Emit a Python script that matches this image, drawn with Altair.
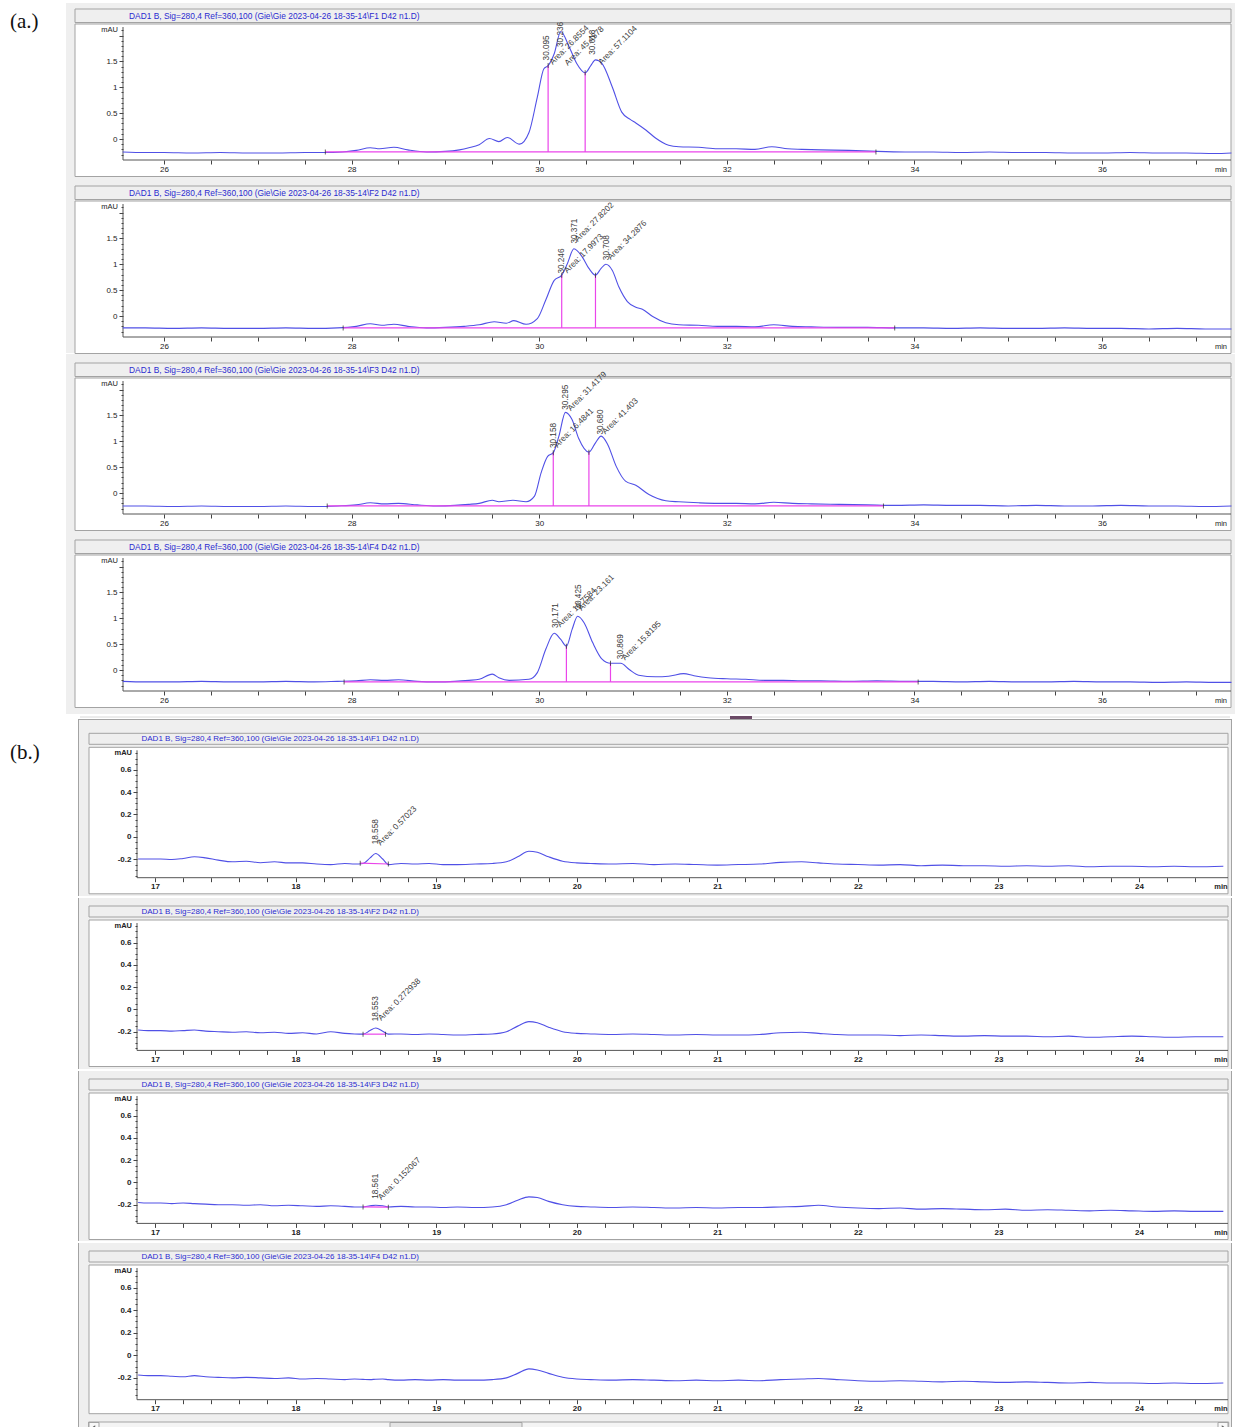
import altair as alt
import pandas as pd

FONT = "Liberation Sans"
SERIF = "Liberation Serif"
BLUE = "#5050e6"
PINK = "#ea45ea"
TITLE_C = "#2b2bd0"
LBL_C = "#3c3c3c"
GRAY_BG = "#efefef"
FRAME = "#a3a3a3"

TITLE_TMPL = "DAD1 B, Sig=280,4 Ref=360,100 (Gie\\Gie 2023-04-26 18-35-14\\F{} D42 n1.D)"
FRACTIONS = [1, 2, 3, 4]

# ---------------- (a.) panels : 25.5 - 37.4 min ----------------
A1_T = [25.56, 25.8, 26.0, 26.3, 26.6, 26.9, 27.2, 27.5, 27.7, 27.9, 28.05, 28.2, 28.3, 28.45, 28.6, 28.8,
        29.0, 29.15, 29.25, 29.36, 29.47, 29.57, 29.66, 29.79, 29.89, 29.98, 30.05, 30.095, 30.16, 30.23,
        30.32, 30.40, 30.49, 30.55, 30.60, 30.67, 30.78, 30.88, 30.97, 31.03, 31.14, 31.24, 31.38, 31.49,
        31.7, 31.9, 32.1, 32.3, 32.48, 32.65, 32.8, 33.0, 33.3, 33.6, 33.9, 34.2, 34.5, 34.8, 35.1, 35.4,
        35.7, 36.0, 36.3, 36.6, 36.9, 37.2, 37.38]
A1_V = [-0.25, -0.26, -0.26, -0.27, -0.26, -0.27, -0.27, -0.26, -0.26, -0.25, -0.22, -0.17, -0.19, -0.16,
        -0.21, -0.25, -0.24, -0.21, -0.17, -0.11, 0.01, -0.05, 0.03, -0.10, 0.12, 0.81, 1.36, 1.42, 1.65,
        2.08, 1.78, 1.46, 1.28, 1.42, 1.53, 1.46, 1.00, 0.52, 0.38, 0.31, 0.17, 0.02, -0.12, -0.15,
        -0.16, -0.19, -0.19, -0.20, -0.15, -0.19, -0.20, -0.21, -0.22, -0.24, -0.25, -0.25, -0.26, -0.25,
        -0.26, -0.26, -0.27, -0.27, -0.26, -0.27, -0.27, -0.28, -0.27]
A1_BASE = [27.72, 33.59, -0.25]
A1_DROP_T = [30.095, 30.49]
A1_DROP_V = [1.42, 1.28]
A1_RT = ["30.095", "30.236", "30.618"]
A1_RT_T = [30.087, 30.233, 30.57]
A1_RT_V = [1.52, 1.78, 1.63]
A1_AREA = ["Area: 26.8554", "Area: 45.4578", "Area: 57.1104"]
A1_AREA_T = [30.13, 30.29, 30.65]
A1_AREA_V = [1.46, 1.44, 1.46]

A2_T = [25.56, 25.8, 26.1, 26.4, 26.7, 27.0, 27.3, 27.6, 27.85, 28.05, 28.2, 28.32, 28.45, 28.6, 28.8, 29.0,
        29.2, 29.36, 29.52, 29.65, 29.73, 29.86, 29.98, 30.07, 30.16, 30.24, 30.30, 30.37, 30.46, 30.53,
        30.60, 30.66, 30.71, 30.78, 30.85, 30.94, 31.03, 31.10, 31.21, 31.35, 31.49, 31.7, 31.9, 32.1,
        32.3, 32.5, 32.7, 32.9, 33.2, 33.5, 33.8, 34.1, 34.4, 34.7, 35.0, 35.3, 35.6, 35.9, 36.2, 36.5,
        36.8, 37.1, 37.38]
A2_V = [-0.23, -0.23, -0.24, -0.23, -0.24, -0.24, -0.23, -0.24, -0.23, -0.20, -0.15, -0.18, -0.16, -0.20,
        -0.23, -0.22, -0.20, -0.17, -0.11, -0.14, -0.09, -0.16, -0.05, 0.31, 0.69, 0.79, 1.01, 1.30, 1.14,
        0.92, 0.79, 0.92, 1.00, 0.88, 0.56, 0.28, 0.17, 0.13, -0.01, -0.13, -0.17, -0.18, -0.20, -0.20,
        -0.21, -0.17, -0.20, -0.21, -0.22, -0.22, -0.23, -0.23, -0.24, -0.23, -0.24, -0.24, -0.23, -0.24,
        -0.24, -0.25, -0.24, -0.25, -0.25]
A2_BASE = [27.91, 33.79, -0.23]
A2_DROP_T = [30.24, 30.60]
A2_DROP_V = [0.79, 0.79]
A2_RT = ["30.246", "30.371", "30.708"]
A2_RT_T = [30.24, 30.38, 30.725]
A2_RT_V = [0.82, 1.40, 1.08]
A2_AREA = ["Area: 17.9973", "Area: 27.8202", "Area: 34.2876"]
A2_AREA_T = [30.285, 30.397, 30.747]
A2_AREA_V = [0.85, 1.46, 1.11]

A3_T = [25.56, 25.8, 26.1, 26.4, 26.7, 27.0, 27.3, 27.6, 27.85, 28.05, 28.2, 28.35, 28.5, 28.7, 28.9, 29.1,
        29.25, 29.36, 29.50, 29.57, 29.72, 29.86, 29.95, 30.02, 30.09, 30.15, 30.21, 30.28, 30.35, 30.42,
        30.53, 30.60, 30.66, 30.73, 30.82, 30.92, 31.03, 31.17, 31.35, 31.49, 31.7, 31.9, 32.1, 32.3,
        32.5, 32.7, 32.9, 33.2, 33.5, 33.8, 34.1, 34.4, 34.7, 35.0, 35.3, 35.6, 35.9, 36.2, 36.5, 36.8,
        37.1, 37.38]
A3_V = [-0.25, -0.25, -0.26, -0.25, -0.26, -0.26, -0.25, -0.26, -0.25, -0.23, -0.19, -0.21, -0.20, -0.23,
        -0.25, -0.24, -0.22, -0.20, -0.14, -0.17, -0.14, -0.17, -0.06, 0.39, 0.71, 0.78, 1.10, 1.56, 1.42,
        1.06, 0.79, 0.97, 1.10, 0.94, 0.52, 0.23, 0.15, -0.03, -0.15, -0.17, -0.19, -0.20, -0.20, -0.21,
        -0.18, -0.20, -0.21, -0.22, -0.23, -0.24, -0.23, -0.24, -0.24, -0.25, -0.24, -0.25, -0.25, -0.24,
        -0.25, -0.25, -0.26, -0.25]
A3_BASE = [27.74, 33.67, -0.25]
A3_DROP_T = [30.15, 30.53]
A3_DROP_V = [0.78, 0.79]
A3_RT = ["30.158", "30.295", "30.680"]
A3_RT_T = [30.158, 30.29, 30.664]
A3_RT_V = [0.87, 1.61, 1.13]
A3_AREA = ["Area: 16.4841", "Area: 31.4179", "Area: 41.403"]
A3_AREA_T = [30.18, 30.32, 30.69]
A3_AREA_V = [0.90, 1.61, 1.16]

A4_T = [25.56, 25.8, 26.1, 26.4, 26.7, 27.0, 27.3, 27.6, 27.85, 28.05, 28.2, 28.35, 28.5, 28.7, 28.9, 29.1,
        29.25, 29.36, 29.50, 29.57, 29.68, 29.89, 29.98, 30.07, 30.16, 30.23, 30.29, 30.35, 30.41, 30.48,
        30.57, 30.67, 30.76, 30.87, 30.96, 31.06, 31.24, 31.38, 31.54, 31.65, 31.8, 32.0, 32.2, 32.4,
        32.6, 32.8, 33.0, 33.3, 33.6, 33.9, 34.2, 34.5, 34.8, 35.1, 35.4, 35.7, 36.0, 36.3, 36.6, 36.9,
        37.2, 37.38]
A4_V = [-0.22, -0.23, -0.23, -0.22, -0.23, -0.23, -0.22, -0.23, -0.22, -0.21, -0.19, -0.20, -0.19, -0.22,
        -0.23, -0.22, -0.20, -0.18, -0.08, -0.15, -0.20, -0.18, -0.05, 0.40, 0.71, 0.59, 0.46, 0.78, 1.04,
        0.91, 0.53, 0.21, 0.13, 0.13, 0.01, -0.10, -0.13, -0.12, -0.07, -0.11, -0.15, -0.17, -0.18, -0.20,
        -0.20, -0.21, -0.21, -0.22, -0.21, -0.22, -0.22, -0.23, -0.22, -0.23, -0.23, -0.22, -0.23, -0.23,
        -0.24, -0.23, -0.24, -0.24]
A4_BASE = [27.92, 34.04, -0.23]
A4_DROP_T = [30.29, 30.76]
A4_DROP_V = [0.46, 0.13]
A4_RT = ["30.171", "30.425", "30.869"]
A4_RT_T = [30.18, 30.42, 30.87]
A4_RT_V = [0.81, 1.17, 0.21]
A4_AREA = ["Area: 10.7584", "Area: 23.161", "Area: 15.8195"]
A4_AREA_T = [30.21, 30.435, 30.90]
A4_AREA_V = [0.85, 1.17, 0.21]

# ---------------- (b.) panels : 16.9 - 24.6 min ----------------
B_T = [16.88, 16.95, 17.04, 17.12, 17.2, 17.28, 17.36, 17.45, 17.55, 17.65, 17.75, 17.85, 17.95, 18.05,
       18.15, 18.25, 18.35, 18.42, 18.48, 18.53, 18.57, 18.62, 18.66, 18.75, 18.85, 18.95, 19.05, 19.15,
       19.28, 19.4, 19.5, 19.58, 19.66, 19.72, 19.8, 19.9, 20.0, 20.1, 20.25, 20.4, 20.55, 20.7, 20.85,
       21.0, 21.15, 21.3, 21.45, 21.6, 21.72, 21.85, 22.0, 22.15, 22.3, 22.45, 22.6, 22.75, 22.9, 23.05,
       23.2, 23.35, 23.5, 23.65, 23.8, 23.95, 24.1, 24.25, 24.4, 24.6]
B1_V = [-0.20, -0.20, -0.20, -0.205, -0.195, -0.18, -0.19, -0.21, -0.225, -0.22, -0.233, -0.225, -0.235,
        -0.235, -0.245, -0.25, -0.24, -0.245, -0.24, -0.19, -0.15, -0.20, -0.25, -0.24, -0.245, -0.24,
        -0.25, -0.25, -0.245, -0.24, -0.225, -0.18, -0.13, -0.14, -0.18, -0.22, -0.235, -0.24, -0.245,
        -0.24, -0.25, -0.245, -0.25, -0.255, -0.25, -0.245, -0.23, -0.225, -0.235, -0.245, -0.25, -0.255,
        -0.25, -0.26, -0.255, -0.26, -0.26, -0.265, -0.26, -0.265, -0.26, -0.27, -0.265, -0.265, -0.27,
        -0.265, -0.27, -0.265]
B2_V = [-0.185, -0.19, -0.19, -0.195, -0.19, -0.185, -0.195, -0.20, -0.205, -0.20, -0.21, -0.205, -0.215,
        -0.21, -0.22, -0.20, -0.215, -0.22, -0.222, -0.19, -0.167, -0.195, -0.222, -0.22, -0.225, -0.22,
        -0.225, -0.23, -0.225, -0.22, -0.20, -0.15, -0.11, -0.12, -0.16, -0.20, -0.215, -0.22, -0.225,
        -0.22, -0.225, -0.23, -0.225, -0.23, -0.23, -0.225, -0.21, -0.205, -0.215, -0.225, -0.23, -0.23,
        -0.235, -0.23, -0.235, -0.24, -0.235, -0.24, -0.24, -0.245, -0.24, -0.25, -0.245, -0.24, -0.245,
        -0.25, -0.245, -0.245]
B3_V = [-0.18, -0.185, -0.185, -0.19, -0.185, -0.19, -0.195, -0.20, -0.20, -0.205, -0.20, -0.21, -0.205,
        -0.21, -0.215, -0.21, -0.215, -0.22, -0.22, -0.21, -0.205, -0.21, -0.22, -0.215, -0.22, -0.22,
        -0.225, -0.22, -0.225, -0.22, -0.20, -0.16, -0.13, -0.135, -0.17, -0.20, -0.215, -0.22, -0.225,
        -0.22, -0.225, -0.23, -0.225, -0.23, -0.225, -0.225, -0.22, -0.215, -0.205, -0.22, -0.23, -0.235,
        -0.23, -0.24, -0.235, -0.24, -0.245, -0.24, -0.25, -0.245, -0.25, -0.255, -0.25, -0.255, -0.26,
        -0.255, -0.26, -0.26]
B4_V = [-0.175, -0.18, -0.18, -0.185, -0.19, -0.18, -0.19, -0.195, -0.20, -0.195, -0.20, -0.205, -0.20,
        -0.21, -0.205, -0.21, -0.215, -0.21, -0.213, -0.215, -0.212, -0.21, -0.215, -0.22, -0.215, -0.22,
        -0.215, -0.22, -0.22, -0.215, -0.20, -0.16, -0.12, -0.13, -0.16, -0.195, -0.21, -0.215, -0.22,
        -0.215, -0.22, -0.225, -0.22, -0.225, -0.22, -0.225, -0.215, -0.21, -0.205, -0.215, -0.225, -0.23,
        -0.225, -0.23, -0.235, -0.23, -0.235, -0.24, -0.235, -0.24, -0.245, -0.24, -0.245, -0.245, -0.25,
        -0.245, -0.25, -0.245]
B1_BASE = [18.46, 18.66, -0.237, -0.245]
B2_BASE = [18.48, 18.64, -0.222, -0.222]
B3_BASE = [18.48, 18.66, -0.22, -0.222]
B1_RT, B1_AREA = "18.558", "Area: 0.57023"
B2_RT, B2_AREA = "18.553", "Area: 0.272938"
B3_RT, B3_AREA = "18.561", "Area: 0.152067"
B1_LBL = [18.572, -0.068, 18.595, -0.068]
B2_LBL = [18.572, -0.107, 18.60, -0.092]
B3_LBL = [18.572, -0.147, 18.60, -0.147]

# axis tick positions
A_XTICKS = [26 + 0.5 * i for i in range(23)]
A_YTICKS = [round(-0.3 + 0.1 * i, 1) for i in range(25)]
B_XTICKS = [round(17 + 0.2 * i, 1) for i in range(38)]
B_YTICKS = [round(-0.35 + 0.05 * i, 2) for i in range(23)]

W = 1235
ONE = pd.DataFrame({"k": [0]})


def rect(x0, x1, y0, y1, fill, stroke=None):
    kw = dict(fill=fill)
    if stroke:
        kw.update(stroke=stroke, strokeWidth=1)
    return alt.Chart(ONE).mark_rect(**kw).encode(
        x=alt.value(x0), x2=alt.value(x1), y=alt.value(y0), y2=alt.value(y1))


def hline(x0, x1, y, color):
    return alt.Chart(ONE).mark_rule(color=color, strokeWidth=1).encode(
        x=alt.value(x0), x2=alt.value(x1), y=alt.value(y))


def vline(x, y0, y1, color):
    return alt.Chart(ONE).mark_rule(color=color, strokeWidth=1).encode(
        x=alt.value(x), y=alt.value(y0), y2=alt.value(y1))


def text(s, x, y, size, color, align="left", weight="normal", font=FONT):
    return alt.Chart(ONE).mark_text(text=s, fontSize=size, color=color, align=align, baseline="middle",
                                    fontWeight=weight, font=font).encode(x=alt.value(x), y=alt.value(y))


def panel(p):
    h = p["h"]
    xs = alt.Scale(domain=p["xdom"], nice=False, zero=False)
    ys = alt.Scale(domain=[(p["zero"] - h) / p["ppu"], p["zero"] / p["ppu"]], nice=False, zero=False)
    bold = "bold" if p["grp"] == "b" else "normal"
    T = p["T"]
    L, R = p["box_x"]
    ax = p["ax"]
    xay = p["xaxis_y"]

    xaxis = alt.Axis(values=p["xticks"], labelExpr=p["xlabel"], orient="bottom", offset=xay - h,
                     domain=False, grid=False, tickSize=4, tickColor="#444", labelFont=FONT,
                     labelFontSize=8, labelColor="#222", labelFontWeight=bold, labelPadding=1,
                     labelOverlap=False, labelFlush=False, title=None, zindex=3)
    yaxis = alt.Axis(values=p["yticks"], labelExpr=p["ylabel"], orient="left", offset=-ax,
                     domain=False, grid=False,
                     tickSize={"condition": {"test": p["ymajor"], "value": 4}, "value": 2},
                     tickColor="#444", labelFont=FONT, labelFontSize=8, labelColor="#222",
                     labelFontWeight=bold, labelPadding=2, labelOverlap=False, labelFlush=False,
                     title=None, zindex=3)

    def X(f):
        return alt.X(f, scale=xs, axis=xaxis)

    def Y(f):
        return alt.Y(f, scale=ys, axis=yaxis)

    layers = [
        rect(p["gx"][0], p["gx"][1], p["gy0"], h, GRAY_BG),
        rect(L, R, T, T + p["tb_h"], GRAY_BG, FRAME),
        rect(L, R, T + p["pb"][0], T + p["pb"][1], "white", FRAME),
        vline(ax, T + p["pb"][0] + 3, xay, "#555"),
        hline(ax, R, xay, "#555"),
    ]
    curve = alt.Chart(pd.DataFrame({"t": p["t"], "v": p["v"]})).mark_line(
        color=BLUE, strokeWidth=1.1, interpolate="monotone").encode(x=X("t:Q"), y=Y("v:Q"))
    layers.append(curve)

    if p.get("base"):
        base = pd.DataFrame({"t0": [p["base"][0]], "t1": [p["base"][1]],
                             "v0": [p["base"][2]], "v1": [p["base"][3]]})
        layers.append(alt.Chart(base).mark_rule(color=PINK, strokeWidth=1.2).encode(
            x=X("t0:Q"), x2="t1:Q", y=Y("v0:Q"), y2="v1:Q"))
        tick_t = [p["base"][0], p["base"][1]]
        tick_v = [p["base"][2], p["base"][3]]
        if p.get("drop_t"):
            drop = pd.DataFrame({"t": p["drop_t"], "vb": [p["base"][2]] * len(p["drop_t"]),
                                 "vt": p["drop_v"]})
            layers.append(alt.Chart(drop).mark_rule(color=PINK, strokeWidth=1.2).encode(
                x=X("t:Q"), y=Y("vb:Q"), y2="vt:Q"))
            tick_t += p["drop_t"]
            tick_v += p["drop_v"]
        layers.append(alt.Chart(pd.DataFrame({"t": tick_t, "v": tick_v})).mark_tick(
            orient="vertical", size=5, thickness=1, color="#222").encode(x=X("t:Q"), y=Y("v:Q")))

    if p.get("rt"):
        rt = pd.DataFrame({"t": p["rt_t"], "v": p["rt_v"], "s": p["rt"]})
        layers.append(alt.Chart(rt).mark_text(angle=270, align="left", baseline="middle", fontSize=8.2,
                                              font=FONT, color=LBL_C).encode(
            x=X("t:Q"), y=Y("v:Q"), text="s:N"))
        ar = pd.DataFrame({"t": p["area_t"], "v": p["area_v"], "s": p["area"]})
        layers.append(alt.Chart(ar).mark_text(angle=315, align="left", baseline="middle", fontSize=8.2,
                                              font=FONT, color=LBL_C).encode(
            x=X("t:Q"), y=Y("v:Q"), text="s:N"))

    layers.append(text(p["title"], p["title_x"], T + p["tb_h"] / 2 + 0.3, p["title_fs"], TITLE_C))
    layers.append(text("mAU", ax - 5, T + p["mau_dy"], 7.5, "#222", align="right", weight=bold))
    layers.append(text("min", 1221, xay + 9.5, 7.5, "#222", align="center", weight=bold))
    for extra in p.get("extra", []):
        layers.append(extra)
    return alt.layer(*layers).properties(width=W, height=h)


A_XDOM = [26 - 164 / 93.8, 26 + (W - 164) / 93.8]
B_XDOM = [17 - 155 / 140.57, 17 + (W - 155) / 140.57]

A_DATA = [
    (A1_T, A1_V, A1_BASE, A1_DROP_T, A1_DROP_V, A1_RT, A1_RT_T, A1_RT_V, A1_AREA, A1_AREA_T, A1_AREA_V),
    (A2_T, A2_V, A2_BASE, A2_DROP_T, A2_DROP_V, A2_RT, A2_RT_T, A2_RT_V, A2_AREA, A2_AREA_T, A2_AREA_V),
    (A3_T, A3_V, A3_BASE, A3_DROP_T, A3_DROP_V, A3_RT, A3_RT_T, A3_RT_V, A3_AREA, A3_AREA_T, A3_AREA_V),
    (A4_T, A4_V, A4_BASE, A4_DROP_T, A4_DROP_V, A4_RT, A4_RT_T, A4_RT_V, A4_AREA, A4_AREA_T, A4_AREA_V),
]
A_H = [177, 176, 177, 183]

panels = []
for i, (t, v, base, dt, dv, rt, rtt, rtv, ar, art, arv) in enumerate(A_DATA):
    h = A_H[i]
    p = dict(grp="a", h=h, xdom=A_XDOM, zero=139, ppu=51.7, T=9, tb_h=13.5, pb=(15, 167.5),
             box_x=(75, 1231), ax=123, xaxis_y=160, gx=(66, W), gy0=3 if i == 0 else 0,
             title=TITLE_TMPL.format(FRACTIONS[i]), title_x=129, title_fs=8.4, mau_dy=21,
             xticks=A_XTICKS, yticks=A_YTICKS,
             xlabel="abs(datum.value/2 - round(datum.value/2)) < 0.001 ? ('' + round(datum.value)) : ''",
             ylabel="(abs(datum.value*2 - round(datum.value*2)) < 0.001 && datum.value < 1.9) ? ('' + datum.value) : ''",
             ymajor="abs(datum.value*2 - round(datum.value*2)) < 0.001",
             t=t, v=v, base=[base[0], base[1], base[2], base[2]], drop_t=dt, drop_v=dv,
             rt=rt, rt_t=rtt, rt_v=rtv, area=ar, area_t=art, area_v=arv)
    if i == 0:
        p["extra"] = [text("(a.)", 10, 22, 21, "#111", font=SERIF)]
    panels.append(panel(p))

B_VS = [B1_V, B2_V, B3_V, B4_V]
B_BASES = [B1_BASE, B2_BASE, B3_BASE, None]
B_LBLS = [(B1_RT, B1_AREA, B1_LBL), (B2_RT, B2_AREA, B2_LBL), (B3_RT, B3_AREA, B3_LBL), None]
B_H = [182, 171, 170, 191]
B_TOP = [19.3, 8, 8, 8]

for i in range(4):
    h = B_H[i]
    T = B_TOP[i]
    last = i == 3
    zero = T + (104.3 if last else 103.4)
    xay = T + (148.7 if last else 144.4)
    p = dict(grp="b", h=h, xdom=B_XDOM, zero=zero, ppu=113 if last else 111.5, T=T, tb_h=11,
             pb=(14, 162.7 if last else 160.5), box_x=(89, 1228), ax=137, xaxis_y=xay,
             gx=(78, 1232), gy0=5 if i == 0 else 0,
             title=TITLE_TMPL.format(FRACTIONS[i]), title_x=141.5, title_fs=8.0, mau_dy=20,
             xticks=B_XTICKS, yticks=B_YTICKS,
             xlabel="abs(datum.value - round(datum.value)) < 0.001 ? ('' + round(datum.value)) : ''",
             ylabel="(abs(datum.value*5 - round(datum.value*5)) < 0.001 && datum.value < 0.7) ? ('' + datum.value) : ''",
             ymajor="abs(datum.value*5 - round(datum.value*5)) < 0.001",
             t=B_T, v=B_VS[i])
    if B_BASES[i] is not None:
        p["base"] = B_BASES[i]
        rt, ar, lb = B_LBLS[i]
        p.update(rt=[rt], rt_t=[lb[0]], rt_v=[lb[1]], area=[ar], area_t=[lb[2]], area_v=[lb[3]])
    extra = [vline(78.5, 0 if i else 5, h, FRAME), vline(1231.5, 0 if i else 5, h, FRAME)]
    if i == 0:
        extra += [hline(78, 1232, 5.5, FRAME), hline(80, 1230, 3, "#d8d8d8"),
                  rect(730, 752, 2, 5, "#6b4a66"),
                  text("(b.)", 10, T + 20, 21, "#111", font=SERIF)]
    if last:
        extra += [rect(88.6, 1228.7, T + 171, T + 180.5, "#f4f4f4", FRAME),
                  rect(390, 522, T + 171.5, T + 180, "#e4e4e4", FRAME),
                  rect(89, 99, T + 171.5, T + 180, "#f8f8f8", FRAME),
                  rect(1218, 1228, T + 171.5, T + 180, "#f8f8f8", FRAME),
                  alt.Chart(ONE).mark_point(shape="triangle-left", filled=True, size=8, color="#222").encode(
                      x=alt.value(94), y=alt.value(T + 175.7)),
                  alt.Chart(ONE).mark_point(shape="triangle-right", filled=True, size=8, color="#222").encode(
                      x=alt.value(1223), y=alt.value(T + 175.7))]
    p["extra"] = extra
    panels.append(panel(p))

chart = alt.vconcat(*panels, spacing=0).properties(padding=0, background="white").configure_view(
    strokeWidth=0)

chart.save("out.html", embed_options={"renderer": "svg", "actions": False})
